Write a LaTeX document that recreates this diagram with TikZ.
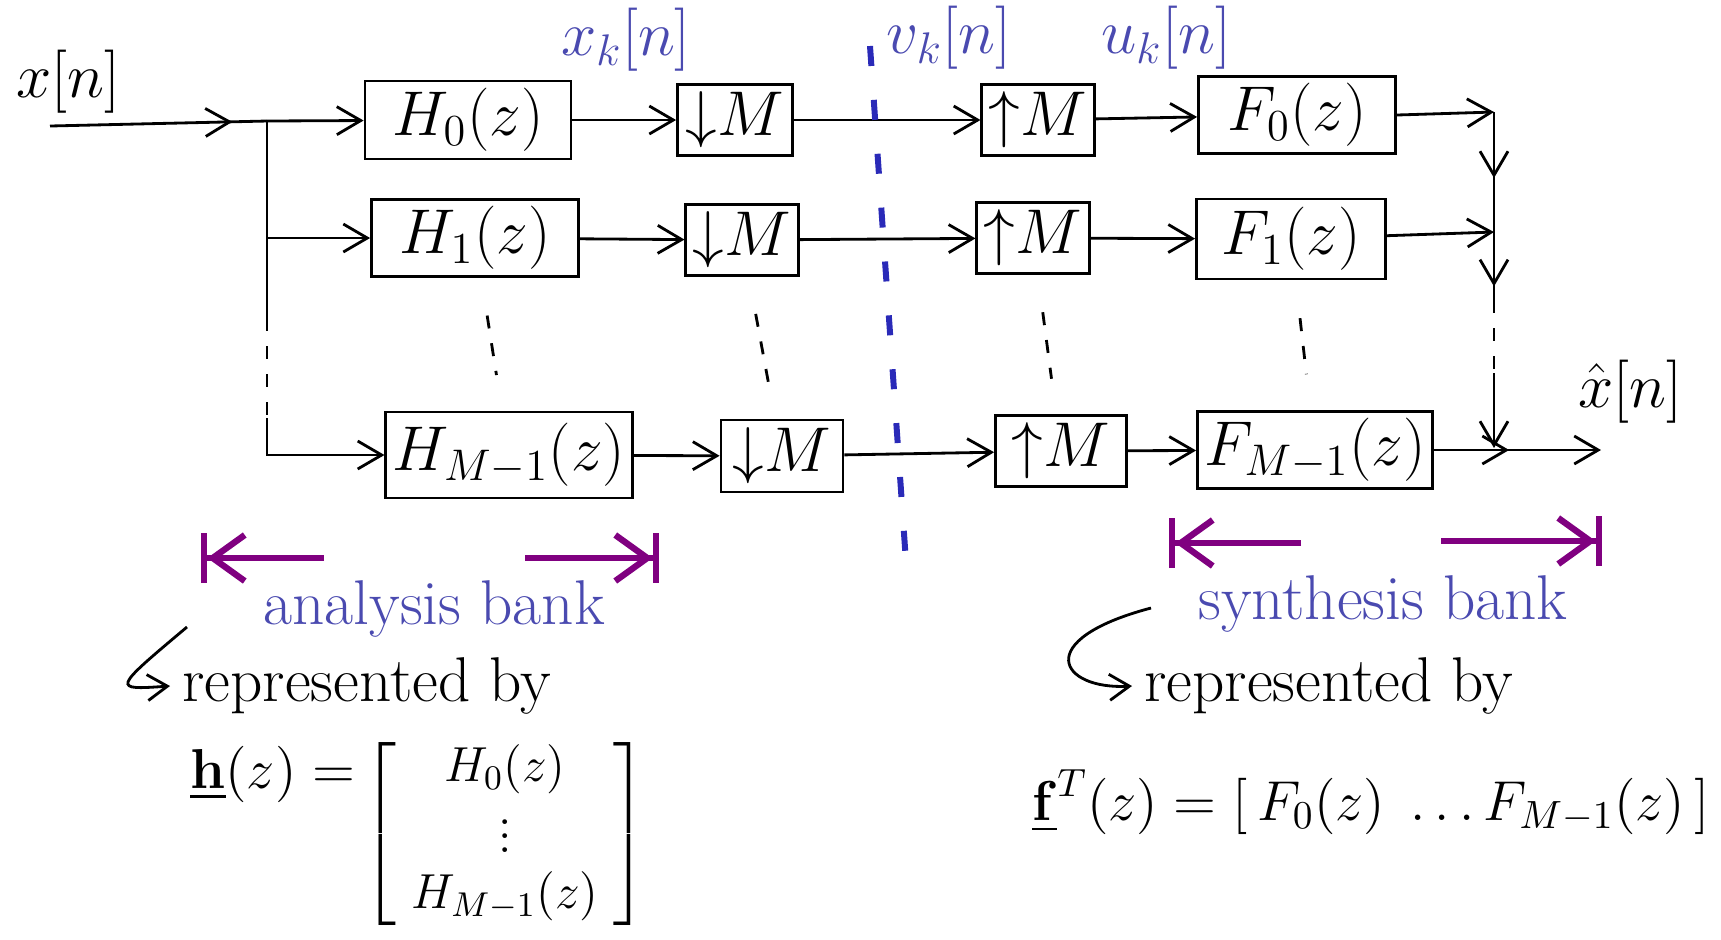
\RequirePackage{fix-cm}
\documentclass[tikz,border=0pt]{standalone}
\usepackage{amsmath}
\usepackage{xcolor}
\usepackage{tikz}
\usetikzlibrary{positioning,arrows.meta,calc,decorations.markings}
\definecolor{cLabel}{HTML}{4A4AB0}
\definecolor{cCut}{HTML}{2A2AB8}
\definecolor{cSpan}{HTML}{800080}
\newcommand{\hw}{\fontsize{18}{22}\selectfont}
\newcommand{\hwm}{\fontsize{16}{19}\selectfont}
\newcommand{\hws}{\fontsize{14}{16}\selectfont}
\newcommand{\dn}{\mathord{\downarrow}}
\newcommand{\up}{\mathord{\uparrow}}
\tikzset{
  blk/.style 2 args={draw,line width=0.8pt,minimum width=#1,minimum height=#2,inner sep=2pt,font=\hw},
  arr/.style={-{Straight Barb[length=2.4mm,width=2.8mm]},line width=0.8pt},
  midarr/.style={postaction={decorate},decoration={markings,mark=at position #1 with {\arrow{Straight Barb[length=2.4mm,width=2.8mm]}}}},
  wire/.style={line width=0.8pt},
  vdots/.style={line width=0.8pt,dash pattern=on 1.3mm off 1.5mm},
  cut/.style={draw=cCut,line width=1.7pt,dash pattern=on 2mm off 3.4mm},
  span/.style={draw=cSpan,line width=1.8pt,-{Straight Barb[length=3.2mm,width=4.6mm]Bar[width=5mm]}},
  sig/.style={font=\hw,text=cLabel},
  txt/.style={font=\hw},
  hook/.style={-{Straight Barb[length=2mm,width=2.6mm]},line width=0.8pt}}

\begin{document}
\begin{tikzpicture}[x=0.1mm,y=-0.1mm]
\useasboundingbox (0,0) rectangle (1721,939);
% filter bank, three rows
\node[blk={20.6mm}{7.8mm}] (H0) at (468,120) {$H_0(z)$};
\node[blk={11.5mm}{6mm}] (D0) at (735,120) {$\dn M$};
\node[blk={10.7mm}{6.2mm}] (U0) at (1038,120) {$\up M$};
\node[blk={19.7mm}{7.2mm}] (F0) at (1297,115) {$F_0(z)$};
\node[blk={20.7mm}{7.4mm}] (H1) at (475,238) {$H_1(z)$};
\node[blk={11.2mm}{6.4mm}] (D1) at (742,240) {$\dn M$};
\node[blk={10.7mm}{6.3mm}] (U1) at (1033,238) {$\up M$};
\node[blk={18.9mm}{8mm}] (F1) at (1291,239) {$F_1(z)$};
\node[blk={23.8mm}{8.6mm}] (H2) at (509,455) {$H_{M-1}(z)$};
\node[blk={12.2mm}{7.2mm}] (D2) at (782,456) {$\dn M$};
\node[blk={13.1mm}{6.6mm}] (U2) at (1061,451) {$\up M$};
\node[blk={20.8mm}{7.6mm}] (F2) at (1315,450) {$F_{M-1}(z)$};
% signal labels
\node[txt] (xlab) at (68,82) {$x[n]$};
\node[sig] (xk) at (626,40) {$x_k[n]$};
\node[sig] (vk) at (949,38) {$v_k[n]$};
\node[sig] (uk) at (1166,38) {$u_k[n]$};
\node[txt] (xhat) at (1630,392) {$\hat{x}[n]$};
% input and branches
\coordinate (xin) at (50,126);
\coordinate (split) at (267,121);
\coordinate (bl1) at (267,318);
\coordinate (bl2) at (267,418);
\draw[wire,midarr=0.84] (xin) -- (split);
\draw[arr] (split) -- (H0);
\draw[arr] (split) |- (H1);
\draw[wire] (split) -- (bl1);
\draw[vdots] (bl1) -- (bl2);
\draw[arr] (bl2) |- (H2);
\foreach \r in {0,1,2}{
  \draw[arr] (H\r) -- (D\r);
  \draw[arr] (D\r) -- (U\r);
  \draw[arr] (U\r) -- (F\r);
}
\foreach \c in {H,D,U,F}
  \draw[vdots,shorten <=3.8mm,shorten >=3.6mm] (\c1) -- (\c2);
% summing bus
\coordinate (b0) at (1494,112);
\coordinate (b1) at (1494,232);
\coordinate (b2) at (1494,300);
\coordinate (b3) at (1494,373);
\coordinate (b4) at (1494,448);
\coordinate (xout) at (1601,450);
\draw[arr] (F0.east) -- (b0);
\draw[arr] (F1) -- (b1);
\draw[wire,midarr=0.55] (b0) -- (b1);
\draw[wire,midarr=0.8] (b1) -- (b2);
\draw[vdots] (b2) -- (b3);
\draw[arr] (b3) -- (b4);
\draw[arr,midarr=0.45] (F2) -- (xout);
% split between the banks
\coordinate (ctop) at (870,46);
\coordinate (cbot) at (906,562);
\draw[cut] (ctop) -- (cbot);
% extents of the banks
\coordinate (a1) at (201,558);
\coordinate (a2) at (324,558);
\coordinate (a3) at (525,558);
\coordinate (a4) at (659,558);
\draw[span] (a2) -- (a1);
\draw[span] (a3) -- (a4);
\coordinate (s1) at (1169,543);
\coordinate (s2) at (1301,543);
\coordinate (s3) at (1441,541);
\coordinate (s4) at (1602,541);
\draw[span] (s2) -- (s1);
\draw[span] (s3) -- (s4);
\node[sig] (abank) at (434,609) {analysis bank};
\node[sig] (sbank) at (1383,604) {synthesis bank};
% vector forms
\node[txt,anchor=west] (rep1) at (170,686) {represented by};
\node[txt,anchor=west] (rep2) at (1132,686) {represented by};
\coordinate (la) at (187,627);
\coordinate (ra) at (1151,608);
\draw[hook] (la) .. controls (112,690) .. (rep1.west);
\draw[hook] (ra) .. controls (1030,640) and (1060,690) .. (rep2.west);
\node[txt,font=\hwm,anchor=west] (hlhs) at (178,774) {$\underline{\mathbf{h}}(z) =$};
\node[txt,font=\hws,inner sep=0pt] (hmat) at (505,834)
  {$\left[\begin{array}{@{\hspace{1.5mm}}c@{\hspace{1.5mm}}} H_0(z)\\ \vdots\\ H_{M-1}(z)\end{array}\right]$};
\node[txt,font=\hwm] (fvec) at (1371,802)
  {$\underline{\mathbf{f}}^{T}(z) = [\,F_0(z)\;\ldots F_{M-1}(z)\,]$};
\end{tikzpicture}
\end{document}
